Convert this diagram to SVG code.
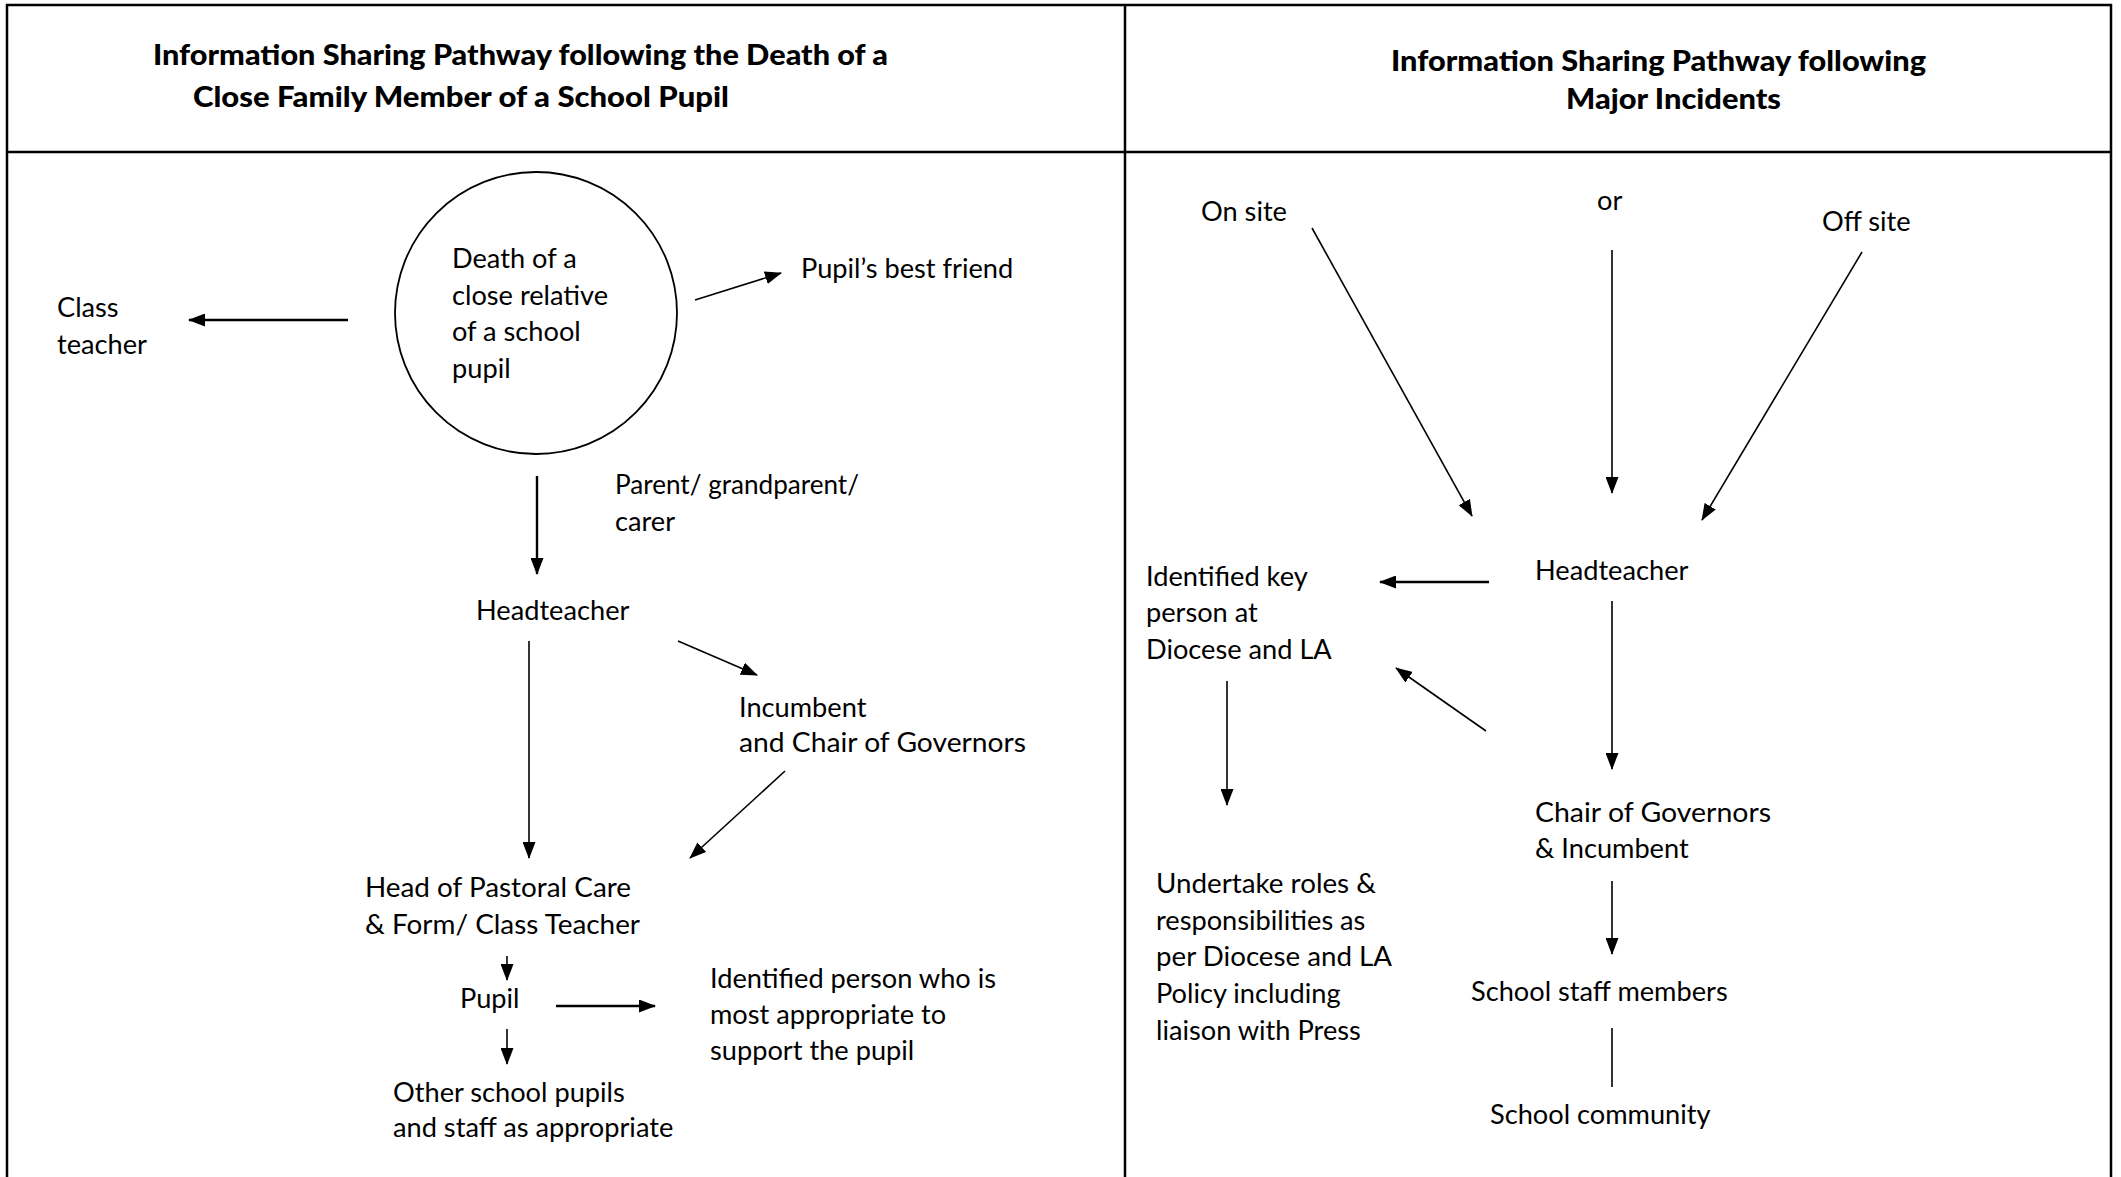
<svg xmlns="http://www.w3.org/2000/svg" width="2121" height="1177" viewBox="0 0 2121 1177">
<style>
  .t { font-family: Lato, "Liberation Sans", sans-serif; font-size: 27.2px; fill: #000; }
  .h { font-family: Lato, "Liberation Sans", sans-serif; font-size: 28px; font-weight: 900; fill: #000; }
  .frame { stroke: #000; stroke-width: 2.5; fill: none; }
  .c { stroke: #000; stroke-width: 1.6; fill: none; marker-end: url(#ah); }
  .c2 { stroke: #000; stroke-width: 2.4; fill: none; marker-end: url(#ah); }
  .plain { stroke: #000; stroke-width: 1.6; fill: none; }
</style>
<defs>
  <marker id="ah" markerUnits="userSpaceOnUse" markerWidth="17" markerHeight="13" refX="16" refY="6.5" orient="auto">
    <path d="M0,0 L17,6.5 L0,13 Z" fill="#000"/>
  </marker>
</defs>
<rect width="2121" height="1177" fill="#fff"/>
<g id="frame">
  <line class="frame" x1="6" y1="5" x2="2112" y2="5"/>
  <line class="frame" x1="7" y1="4" x2="7" y2="1177"/>
  <line class="frame" x1="2111" y1="4" x2="2111" y2="1177"/>
  <line class="frame" x1="1125" y1="4" x2="1125" y2="1177"/>
  <line class="frame" x1="6" y1="152" x2="2112" y2="152"/>
</g>
<g id="title-left">
  <text class="h" x="153" y="65" textLength="735" lengthAdjust="spacingAndGlyphs">Information Sharing Pathway following the Death of a</text>
  <text class="h" x="193" y="107" textLength="536" lengthAdjust="spacingAndGlyphs">Close Family Member of a School Pupil</text>
</g>
<g id="title-right">
  <text class="h" x="1391" y="71" textLength="535" lengthAdjust="spacingAndGlyphs">Information Sharing Pathway following</text>
  <text class="h" x="1566" y="109" textLength="215" lengthAdjust="spacingAndGlyphs">Major Incidents</text>
</g>
<g id="death">
  <circle cx="536" cy="313" r="141" fill="none" stroke="#000" stroke-width="1.8"/>
  <text class="t" x="452" y="268">Death of a</text>
  <text class="t" x="452" y="304.5">close relative</text>
  <text class="t" x="452" y="341">of a school</text>
  <text class="t" x="452" y="377.5">pupil</text>
</g>
<g id="class-teacher">
  <text class="t" x="57" y="317">Class</text>
  <text class="t" x="57" y="354">teacher</text>
</g>
<g id="best-friend">
  <text class="t" x="801" y="278">Pupil’s best friend</text>
</g>
<g id="parent">
  <text class="t" x="615" y="494" textLength="244" lengthAdjust="spacingAndGlyphs">Parent/ grandparent/</text>
  <text class="t" x="615" y="531">carer</text>
</g>
<g id="headteacher-left">
  <text class="t" x="476" y="620">Headteacher</text>
</g>
<g id="incumbent-left">
  <text class="t" x="739" y="717">Incumbent</text>
  <text class="t" x="739" y="752" textLength="287" lengthAdjust="spacingAndGlyphs">and Chair of Governors</text>
</g>
<g id="pastoral">
  <text class="t" x="365" y="897" textLength="266" lengthAdjust="spacingAndGlyphs">Head of Pastoral Care</text>
  <text class="t" x="365" y="934" textLength="275" lengthAdjust="spacingAndGlyphs">&amp; Form/ Class Teacher</text>
</g>
<g id="pupil">
  <text class="t" x="460" y="1008">Pupil</text>
</g>
<g id="identified-person">
  <text class="t" x="710" y="988">Identified person who is</text>
  <text class="t" x="710" y="1024">most appropriate to</text>
  <text class="t" x="710" y="1060">support the pupil</text>
</g>
<g id="other-pupils">
  <text class="t" x="393" y="1102">Other school pupils</text>
  <text class="t" x="393" y="1137">and staff as appropriate</text>
</g>
<g id="on-site">
  <text class="t" x="1201" y="221">On site</text>
</g>
<g id="or">
  <text class="t" x="1597" y="210">or</text>
</g>
<g id="off-site">
  <text class="t" x="1822" y="231">Off site</text>
</g>
<g id="headteacher-right">
  <text class="t" x="1535" y="580">Headteacher</text>
</g>
<g id="key-person">
  <text class="t" x="1146" y="586">Identified key</text>
  <text class="t" x="1146" y="622">person at</text>
  <text class="t" x="1146" y="659">Diocese and LA</text>
</g>
<g id="chair-right">
  <text class="t" x="1535" y="822" textLength="236" lengthAdjust="spacingAndGlyphs">Chair of Governors</text>
  <text class="t" x="1535" y="858">&amp; Incumbent</text>
</g>
<g id="undertake">
  <text class="t" x="1156" y="893" textLength="220" lengthAdjust="spacingAndGlyphs">Undertake roles &amp;</text>
  <text class="t" x="1156" y="930">responsibilities as</text>
  <text class="t" x="1156" y="966" textLength="236" lengthAdjust="spacingAndGlyphs">per Diocese and LA</text>
  <text class="t" x="1156" y="1003">Policy including</text>
  <text class="t" x="1156" y="1040">liaison with Press</text>
</g>
<g id="staff">
  <text class="t" x="1471" y="1001">School staff members</text>
</g>
<g id="community">
  <text class="t" x="1490" y="1124">School community</text>
</g>
<g id="connectors">
  <line class="c2" x1="348" y1="320" x2="189" y2="320"/>
  <line class="c" x1="695" y1="300" x2="781" y2="273"/>
  <line class="c2" x1="537" y1="476" x2="537" y2="574"/>
  <line class="c" x1="529" y1="641" x2="529" y2="858"/>
  <line class="c" x1="678" y1="641" x2="757" y2="675"/>
  <line class="c" x1="785" y1="771" x2="690" y2="858"/>
  <line class="c" x1="507" y1="956" x2="507" y2="980"/>
  <line class="c2" x1="556" y1="1006" x2="655" y2="1006"/>
  <line class="c" x1="507" y1="1029" x2="507" y2="1064"/>
  <line class="c" x1="1312" y1="228" x2="1472" y2="516"/>
  <line class="c" x1="1612" y1="250" x2="1612" y2="493"/>
  <line class="c" x1="1862" y1="252" x2="1702" y2="520"/>
  <line class="c2" x1="1489" y1="582" x2="1380" y2="582"/>
  <line class="c" x1="1612" y1="601" x2="1612" y2="769"/>
  <line class="c" x1="1486" y1="731" x2="1396" y2="668"/>
  <line class="c" x1="1227" y1="681" x2="1227" y2="805"/>
  <line class="c" x1="1612" y1="881" x2="1612" y2="954"/>
  <line class="plain" x1="1612" y1="1028" x2="1612" y2="1087"/>
</g>
</svg>
